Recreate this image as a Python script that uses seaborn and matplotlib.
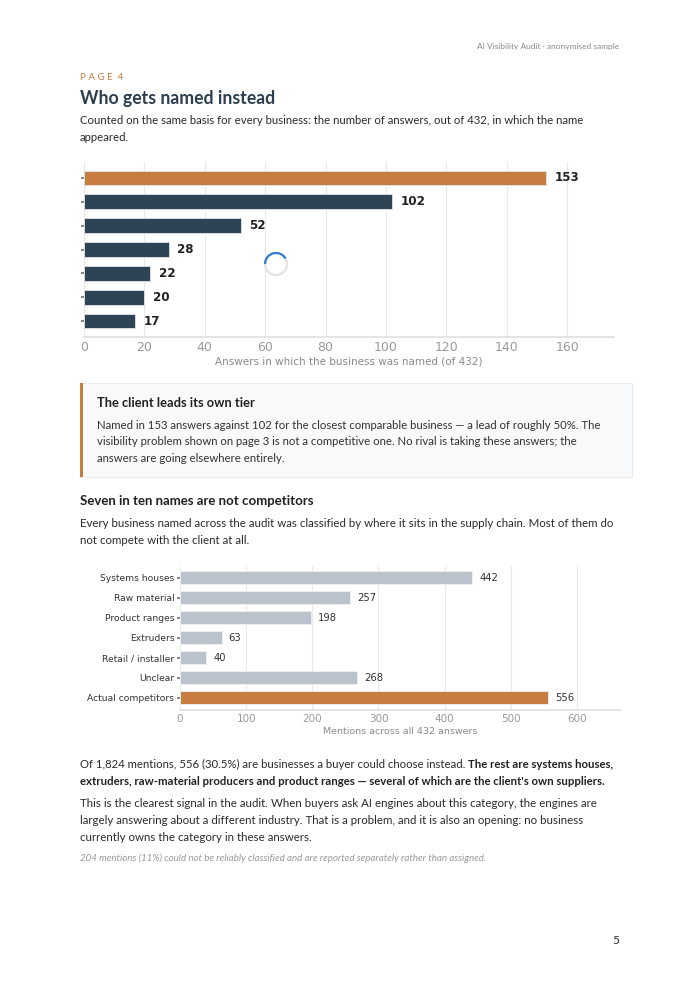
import numpy as np
import pandas as pd
import matplotlib
matplotlib.use("Agg")
import matplotlib.pyplot as plt
import seaborn as sns
from matplotlib.patches import Rectangle, Circle, Arc

# chart 1: answers naming each business (client first)
biz_names = ["Client", "Rival A", "Rival B", "Rival C", "Rival D", "Rival E", "Rival F"]
biz_answers = [153, 102, 52, 28, 22, 20, 17]

# chart 2: mentions by supply-chain category
cat_names = ["Systems houses", "Raw material", "Product ranges", "Extruders",
             "Retail / installer", "Unclear", "Actual competitors"]
cat_mentions = [442, 257, 198, 63, 40, 268, 556]

ORANGE = "#C77D3F"
SLATE = "#2E4454"
GREY_BAR = "#BAC3CB"
INK = "#2B2B2B"
TITLE = "#2C3E50"
MUTED = "#8A8A8A"

sns.set_theme(style="whitegrid")
plt.rcParams["font.family"] = ["DejaVu Sans"]

fig = plt.figure(figsize=(7, 9.89), dpi=100)
W, H = 700, 989


def fy(y):
    return 1 - y / H


def ftext(x, y, s, **kw):
    kw.setdefault("family", "Lato")
    kw.setdefault("va", "baseline")
    return fig.text(x / W, fy(y), s, **kw)


# page header
ftext(619, 49, "AI Visibility Audit · anonymised sample", fontsize=6, color=MUTED, ha="right")
ftext(80, 80, "P A G E  4", fontsize=7, color=ORANGE)
ftext(80, 104, "Who gets named instead", fontsize=12.7, fontweight="bold", color=TITLE)
ftext(80, 124, "Counted on the same basis for every business: the number of answers, out of 432, in which the name",
      fontsize=8.2, color=INK)
ftext(80, 141, "appeared.", fontsize=8.2, color=INK)

# chart 1
ax1 = fig.add_axes([84 / W, fy(337), (614 - 84) / W, (337 - 162) / H])
df1 = pd.DataFrame({"name": biz_names, "answers": biz_answers})
pal1 = [ORANGE] + [SLATE] * (len(biz_names) - 1)
sns.barplot(data=df1, x="answers", y="name", hue="name", palette=pal1, legend=False,
            saturation=1, width=0.62, edgecolor="#dfe5ea", linewidth=0.6, ax=ax1)
for c in ax1.containers:
    ax1.bar_label(c, padding=6, fontsize=8.6, fontweight="bold", color="#222222")
ax1.set_xlim(0, 175.5)
ax1.set_ylim(6.67, -0.67)
ax1.set_xticks(range(0, 161, 20))
ax1.set_yticks(range(len(biz_names)))
ax1.set_yticklabels([""] * len(biz_names))
ax1.set_ylabel("")
ax1.set_xlabel("Answers in which the business was named (of 432)", fontsize=7.5, color=MUTED, labelpad=2)
ax1.set_facecolor("white")
ax1.grid(axis="x", color="#e8e8e8", linewidth=0.8)
ax1.grid(axis="y", visible=False)
for s in ["top", "right", "left"]:
    ax1.spines[s].set_visible(False)
ax1.spines["bottom"].set_color("#e0e0e0")
ax1.tick_params(axis="x", labelsize=9, colors="#999999", length=0, pad=3)
ax1.tick_params(axis="y", length=2.5, color="#777777", left=True, pad=0)

# overlay axes in pixel units for the spinner and callout box
over = fig.add_axes([0, 0, 1, 1], facecolor="none")
over.set_xlim(0, W)
over.set_ylim(H, 0)
over.axis("off")
over.add_patch(Circle((276, 264), 11, fill=False, edgecolor="#e3e3e3", linewidth=1.6))
over.add_patch(Arc((276, 264), 22, 22, theta1=180, theta2=330, edgecolor="#2f7fd1", linewidth=1.6))

# callout box
over.add_patch(Rectangle((80, 383), 552, 94, facecolor="#F7F9FB", edgecolor="#e8ecef", linewidth=0.8))
over.add_patch(Rectangle((80, 383), 3, 94, facecolor=ORANGE, edgecolor="none"))
ftext(97, 407, "The client leads its own tier", fontsize=9.3, fontweight="bold", color="#222222")
ftext(97, 429, "Named in 153 answers against 102 for the closest comparable business — a lead of roughly 50%. The",
      fontsize=8.2, color="#333333")
ftext(97, 445, "visibility problem shown on page 3 is not a competitive one. No rival is taking these answers; the",
      fontsize=8.2, color="#333333")
ftext(97, 462, "answers are going elsewhere entirely.", fontsize=8.2, color="#333333")

ftext(80, 505, "Seven in ten names are not competitors", fontsize=9.5, fontweight="bold", color="#222222")
ftext(80, 527, "Every business named across the audit was classified by where it sits in the supply chain. Most of them do",
      fontsize=8.25, color=INK)
ftext(80, 544, "not compete with the client at all.", fontsize=8.25, color=INK)

# chart 2
ax2 = fig.add_axes([180 / W, fy(710), (620 - 180) / W, (710 - 566) / H])
df2 = pd.DataFrame({"category": cat_names, "mentions": cat_mentions})
pal2 = [GREY_BAR] * (len(cat_names) - 1) + [ORANGE]
sns.barplot(data=df2, x="mentions", y="category", hue="category", palette=pal2, legend=False,
            saturation=1, width=0.65, edgecolor="#eef1f3", linewidth=0.6, ax=ax2)
for c in ax2.containers:
    ax2.bar_label(c, padding=5, fontsize=7.2, color="#333333")
ax2.set_xlim(0, 665)
ax2.set_ylim(6.62, -0.6)
ax2.set_xticks(range(0, 601, 100))
ax2.set_ylabel("")
ax2.set_xlabel("Mentions across all 432 answers", fontsize=6.8, color=MUTED, labelpad=2)
ax2.set_facecolor("white")
ax2.grid(axis="x", color="#e8e8e8", linewidth=0.8)
ax2.grid(axis="y", visible=False)
for s in ["top", "right", "left"]:
    ax2.spines[s].set_visible(False)
ax2.spines["bottom"].set_color("#e0e0e0")
ax2.tick_params(axis="x", labelsize=7.5, colors="#999999", length=0, pad=3)
ax2.tick_params(axis="y", labelsize=6.6, labelcolor="#333333", length=2.5, color="#777777", left=True, pad=1.5)

# closing text, with a bold run on the first line
t1 = ftext(80, 768, "Of 1,824 mentions, 556 (30.5%) are businesses a buyer could choose instead. ",
           fontsize=8.2, color=INK)
fig.canvas.draw()
x_end = t1.get_window_extent().x1 / fig.bbox.width
fig.text(x_end, fy(768), "The rest are systems houses,", family="Lato", fontsize=8.2,
         fontweight="bold", color="#222222", va="baseline")
ftext(80, 785, "extruders, raw-material producers and product ranges — several of which are the client's own suppliers.",
      fontsize=8.2, fontweight="bold", color="#222222")
ftext(80, 807, "This is the clearest signal in the audit. When buyers ask AI engines about this category, the engines are",
      fontsize=8.25, color=INK)
ftext(80, 824, "largely answering about a different industry. That is a problem, and it is also an opening: no business",
      fontsize=8.25, color=INK)
ftext(80, 841, "currently owns the category in these answers.", fontsize=8.25, color=INK)
ftext(80, 861, "204 mentions (11%) could not be reliably classified and are reported separately rather than assigned.",
      fontsize=7.0, color="#9a9a9a", style="italic")

ftext(619, 944, "5", fontsize=8.5, color=INK, ha="right")

fig.savefig("out.png", dpi=100, facecolor="white")
